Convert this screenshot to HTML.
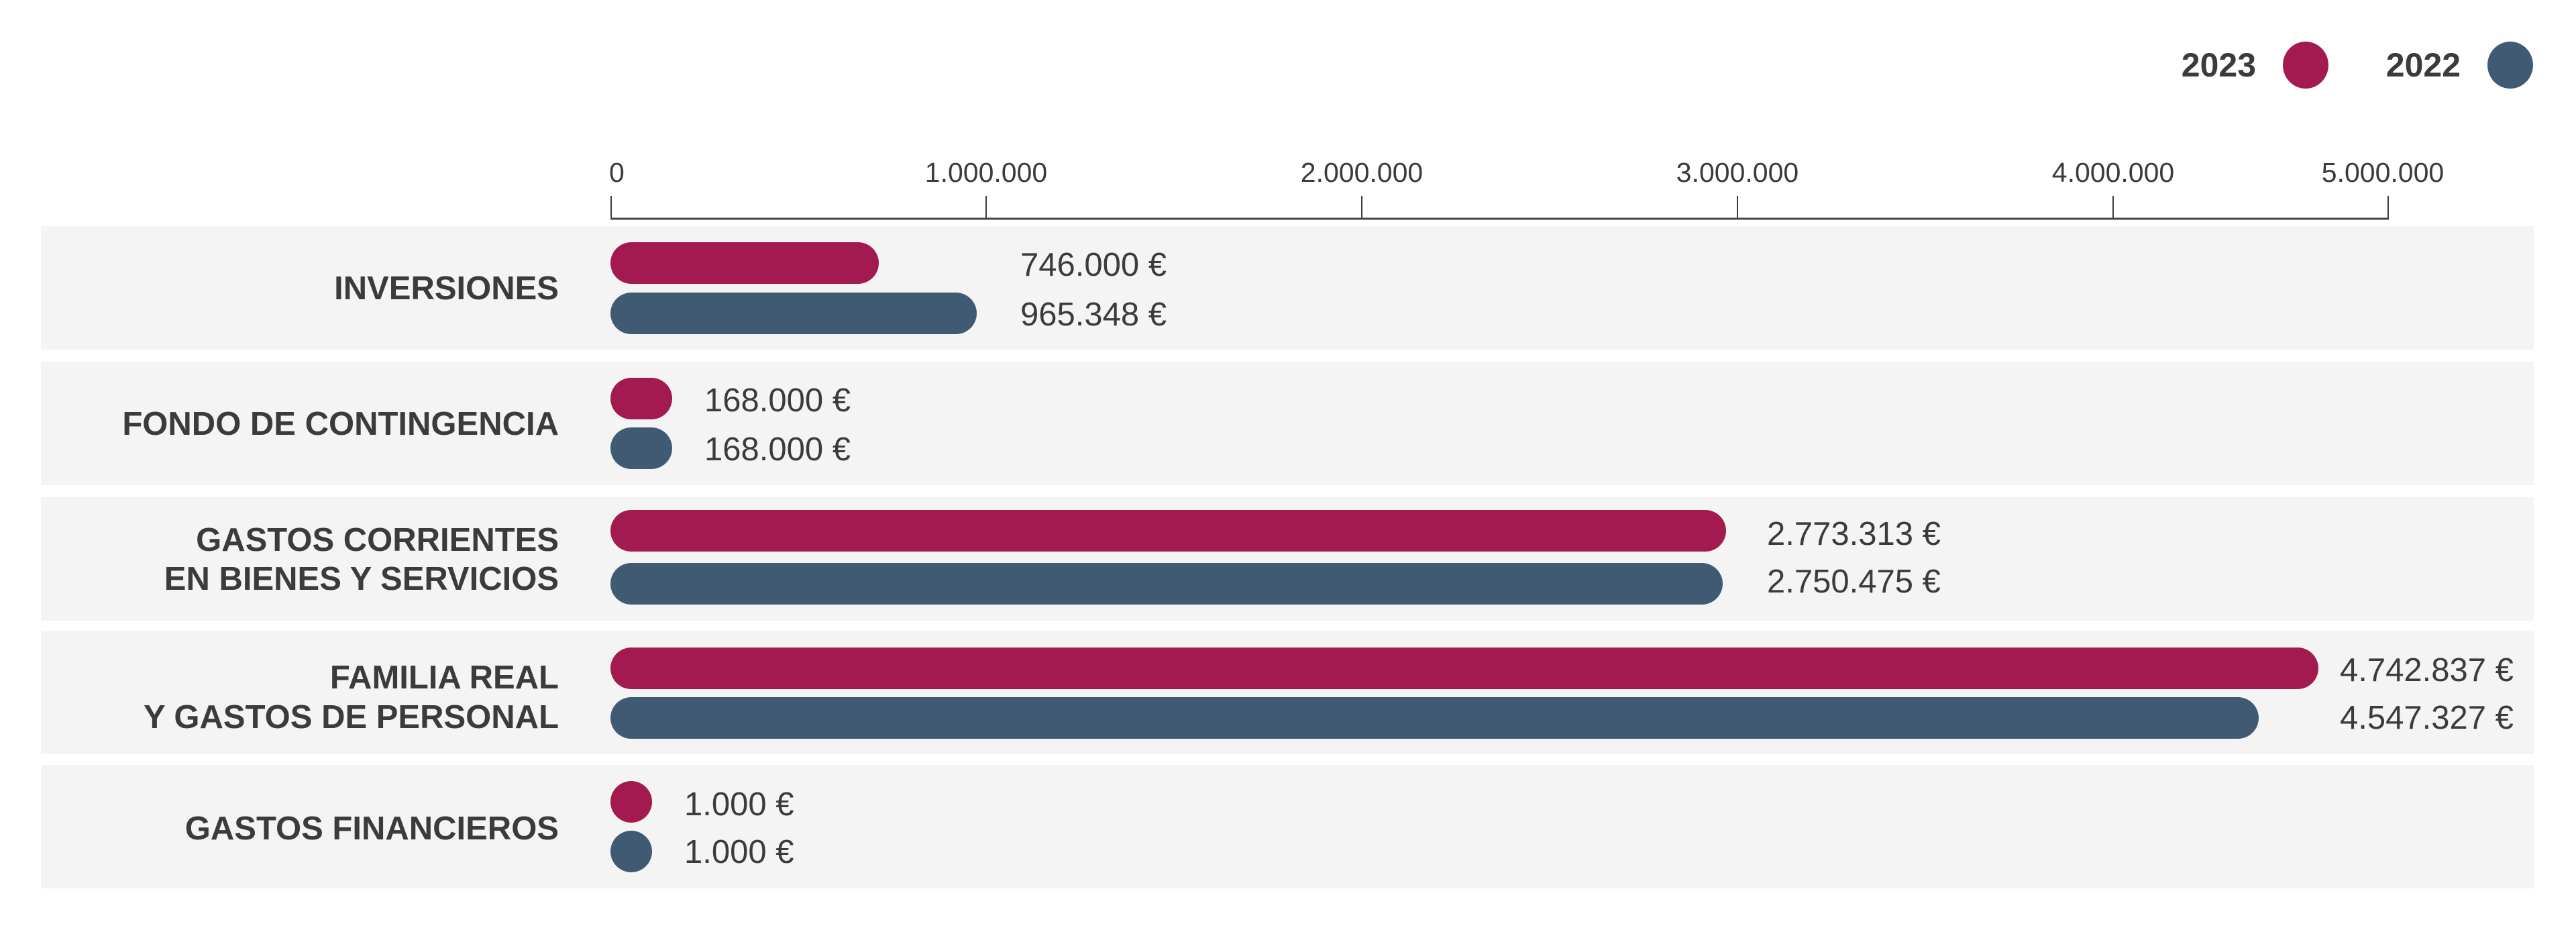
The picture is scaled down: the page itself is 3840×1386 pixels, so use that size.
<!DOCTYPE html>
<html><head><meta charset="utf-8"><style>
html,body{margin:0;padding:0;background:#fff;}
svg{display:block;}
text{font-family:"Liberation Sans",Arial,sans-serif;fill:#3b3b3b;}
.b{font-weight:bold;}
</style></head><body>
<svg width="3840" height="1386" viewBox="0 0 3840 1386" xmlns="http://www.w3.org/2000/svg">
<text class="b" x="3363" y="114" font-size="50" text-anchor="end">2023</text>
<ellipse cx="3437" cy="97" rx="34" ry="35" fill="#a21a50"/>
<text class="b" x="3668" y="114" font-size="50" text-anchor="end">2022</text>
<ellipse cx="3742" cy="97" rx="34" ry="35" fill="#405a74"/>
<g font-size="41">
<text x="908" y="271">0</text>
<text x="1470" y="271" text-anchor="middle">1.000.000</text>
<text x="2030" y="271" text-anchor="middle">2.000.000</text>
<text x="2590" y="271" text-anchor="middle">3.000.000</text>
<text x="3150" y="271" text-anchor="middle">4.000.000</text>
<text x="3552" y="271" text-anchor="middle">5.000.000</text>
</g>
<g stroke="#3b3b3b" stroke-width="2">
<line x1="911" y1="292" x2="911" y2="327"/>
<line x1="1470" y1="292" x2="1470" y2="327"/>
<line x1="2030" y1="292" x2="2030" y2="327"/>
<line x1="2590" y1="292" x2="2590" y2="327"/>
<line x1="3150" y1="292" x2="3150" y2="327"/>
<line x1="3560" y1="292" x2="3560" y2="327"/>
</g>
<line x1="910" y1="326" x2="3561" y2="326" stroke="#444" stroke-width="3"/>
<g fill="#f4f4f4">
<rect x="61" y="337" width="3716" height="184"/>
<rect x="61" y="539" width="3716" height="184"/>
<rect x="61" y="741" width="3716" height="184"/>
<rect x="61" y="940" width="3716" height="184"/>
<rect x="61" y="1140" width="3716" height="184"/>
</g>
<g class="b" font-size="49" text-anchor="end">
<text class="b" x="833" y="446">INVERSIONES</text>
<text class="b" x="833" y="648">FONDO DE CONTINGENCIA</text>
<text class="b" x="833" y="821">GASTOS CORRIENTES</text>
<text class="b" x="833" y="879">EN BIENES Y SERVICIOS</text>
<text class="b" x="833" y="1026">FAMILIA REAL</text>
<text class="b" x="833" y="1085">Y GASTOS DE PERSONAL</text>
<text class="b" x="833" y="1251">GASTOS FINANCIEROS</text>
</g>
<g>
<rect x="910" y="361" width="400" height="62" rx="31" fill="#a21a50"/>
<rect x="910" y="436" width="546" height="62" rx="31" fill="#405a74"/>
<rect x="910" y="563" width="92" height="62" rx="31" fill="#a21a50"/>
<rect x="910" y="637" width="92" height="62" rx="31" fill="#405a74"/>
<rect x="910" y="760" width="1663" height="62" rx="31" fill="#a21a50"/>
<rect x="910" y="839" width="1658" height="62" rx="31" fill="#405a74"/>
<rect x="910" y="965" width="2546" height="62" rx="31" fill="#a21a50"/>
<rect x="910" y="1039" width="2457" height="62" rx="31" fill="#405a74"/>
<rect x="910" y="1164" width="62" height="62" rx="31" fill="#a21a50"/>
<rect x="910" y="1238" width="62" height="62" rx="31" fill="#405a74"/>
</g>
<g font-size="49">
<text x="1521" y="411">746.000 €</text>
<text x="1521" y="485">965.348 €</text>
<text x="1050" y="613">168.000 €</text>
<text x="1050" y="686">168.000 €</text>
<text x="2634" y="812">2.773.313 €</text>
<text x="2634" y="883">2.750.475 €</text>
<text x="3488" y="1015">4.742.837 €</text>
<text x="3488" y="1086">4.547.327 €</text>
<text x="1020" y="1215">1.000 €</text>
<text x="1020" y="1286">1.000 €</text>
</g>
</svg>
</body></html>
